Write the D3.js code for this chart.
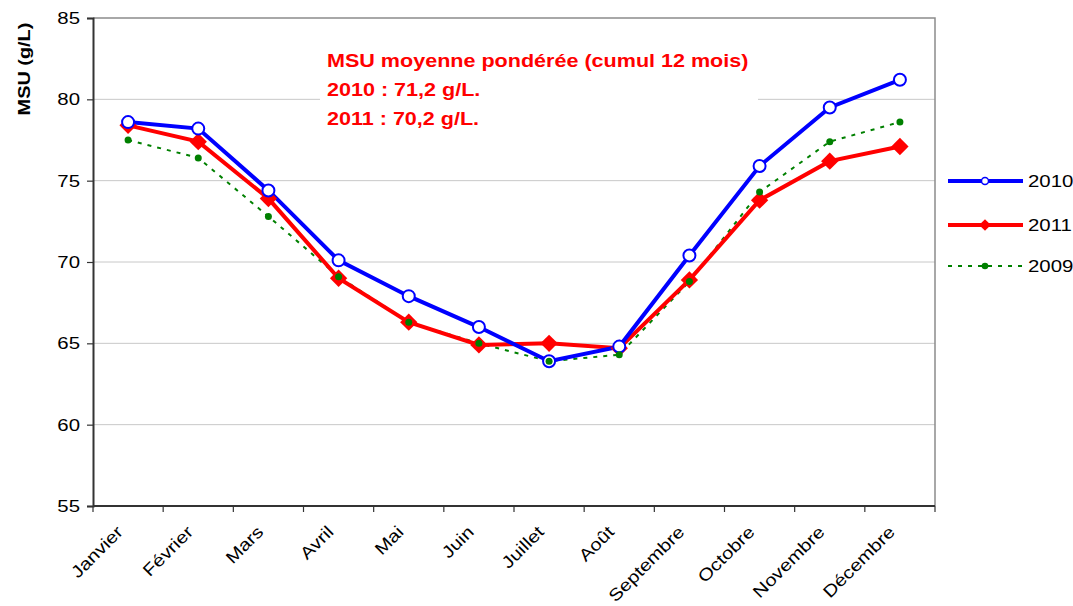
<!DOCTYPE html>
<html>
<head>
<meta charset="utf-8">
<script src="https://cdn.jsdelivr.net/npm/d3@7"></script>
<style>
  html, body { margin: 0; padding: 0; background: #fff; }
  svg { display: block; font-family: "Liberation Sans", Arial, sans-serif; }
</style>
</head>
<body>
<svg id="chart" width="1073" height="606"></svg>
<script>
// Data
const months = ["Janvier", "Février", "Mars", "Avril", "Mai", "Juin", "Juillet", "Août", "Septembre", "Octobre", "Novembre", "Décembre"];
const msu2010 = [78.6, 78.2, 74.4, 70.1, 67.9, 66.0, 63.9, 64.8, 70.4, 75.9, 79.5, 81.2];
const msu2011 = [78.4, 77.4, 73.9, 69.0, 66.3, 64.9, 65.0, 64.7, 68.9, 73.8, 76.2, 77.1];
const msu2009 = [77.5, 76.4, 72.8, 69.1, 66.3, 65.0, 63.9, 64.3, 68.8, 74.3, 77.4, 78.6];
const yTicks = [55, 60, 65, 70, 75, 80, 85];
const noteLines = ["MSU moyenne pondérée (cumul 12 mois)", "2010 : 71,2 g/L.", "2011 : 70,2 g/L."];

const svg = d3.select("#chart");

const plotLeft = 93, plotRight = 935, plotTop = 18, plotBottom = 506;
const stretch = 1.2; // the original text is wider than plain Arial

const x = d3.scaleBand().domain(months).range([plotLeft, plotRight]).padding(0);
const y = d3.scaleLinear().domain([55, 85]).range([plotBottom, plotTop]);

// gridlines
svg.append("g")
    .selectAll("line")
    .data(yTicks.slice(1, -1))
    .join("line")
    .attr("x1", plotLeft).attr("x2", plotRight)
    .attr("y1", d => y(d)).attr("y2", d => y(d))
    .attr("stroke", "#c8c8c8")
    .attr("stroke-width", 1);

// frame: top and right in grey
svg.append("path")
    .attr("d", `M${plotLeft},${plotTop}H${plotRight}V${plotBottom}`)
    .attr("fill", "none")
    .attr("stroke", "#8c8c8c")
    .attr("stroke-width", 1.5);

// white box behind the note (covers gridline at 80)
svg.append("rect")
    .attr("x", 320).attr("y", 42)
    .attr("width", 438).attr("height", 92)
    .attr("fill", "#fff");

// y axis
const yAxis = svg.append("g")
    .attr("transform", `translate(${plotLeft},0)`)
    .call(d3.axisLeft(y).tickValues(yTicks).tickSize(6).tickPadding(7));
yAxis.select(".domain").attr("stroke", "#333").attr("stroke-width", 2);
yAxis.selectAll(".tick line").attr("stroke", "#333").attr("stroke-width", 1.2);
yAxis.selectAll(".tick text")
    .attr("font-size", 17)
    .attr("fill", "#000")
    .attr("font-family", "Liberation Sans, Arial, sans-serif")
    .attr("x", -13 / stretch)
    .attr("transform", `scale(${stretch},1)`);

// x axis: ticks at band boundaries
const xAxis = svg.append("g").attr("transform", `translate(0,${plotBottom})`);
xAxis.append("line")
    .attr("x1", plotLeft).attr("x2", plotRight)
    .attr("stroke", "#333").attr("stroke-width", 2);
const boundaries = months.map(m => x(m)).concat([plotRight]);
xAxis.selectAll(".xt")
    .data(boundaries)
    .join("line")
    .attr("class", "xt")
    .attr("x1", d => d).attr("x2", d => d)
    .attr("y1", 0).attr("y2", 6)
    .attr("stroke", "#333").attr("stroke-width", 1.2);
xAxis.selectAll("text")
    .data(months)
    .join("text")
    .attr("transform", d => `translate(${x(d) + x.bandwidth() / 2 - 4},${27}) rotate(-45) scale(1.19,1)`)
    .attr("text-anchor", "end")
    .attr("font-size", 17)
    .attr("fill", "#000")
    .text(d => d);

// y axis title
svg.append("text")
    .attr("transform", `translate(30,69) rotate(-90) scale(1.17,1)`)
    .attr("text-anchor", "middle")
    .attr("font-size", 17)
    .attr("font-weight", "bold")
    .text("MSU (g/L)");

// note text
svg.append("g")
    .selectAll("text")
    .data(noteLines)
    .join("text")
    .attr("transform", (d, i) => `translate(327,${67 + i * 29}) scale(1.165,1)`)
    .attr("font-size", 18.5)
    .attr("font-weight", "bold")
    .attr("fill", "#ff0000")
    .text(d => d);

const cx = (d, i) => x(months[i]) + x.bandwidth() / 2;
const line = d3.line().x(cx).y(d => y(d));

// 2009 dotted green
svg.append("path")
    .datum(msu2009)
    .attr("d", line)
    .attr("fill", "none")
    .attr("stroke", "#008000")
    .attr("stroke-width", 2)
    .attr("stroke-dasharray", "4,6");

// 2011 red
svg.append("path")
    .datum(msu2011)
    .attr("d", line)
    .attr("fill", "none")
    .attr("stroke", "#ff0000")
    .attr("stroke-width", 4);

// 2010 blue
svg.append("path")
    .datum(msu2010)
    .attr("d", line)
    .attr("fill", "none")
    .attr("stroke", "#0000ff")
    .attr("stroke-width", 4);

// markers 2011: diamonds
svg.append("g")
    .selectAll("path")
    .data(msu2011)
    .join("path")
    .attr("d", d3.symbol().type(d3.symbolSquare).size(150))
    .attr("transform", (d, i) => `translate(${cx(d, i)},${y(d)}) rotate(45)`)
    .attr("fill", "#ff0000");

// markers 2010: open circles
svg.append("g")
    .selectAll("circle")
    .data(msu2010)
    .join("circle")
    .attr("cx", cx)
    .attr("cy", d => y(d))
    .attr("r", 6)
    .attr("fill", "#fff")
    .attr("stroke", "#0000ff")
    .attr("stroke-width", 2);

// markers 2009: green dots
svg.append("g")
    .selectAll("circle")
    .data(msu2009)
    .join("circle")
    .attr("cx", cx)
    .attr("cy", d => y(d))
    .attr("r", 3.5)
    .attr("fill", "#008000");

// legend
const legendItems = [
    { name: "2010", color: "#0000ff", width: 4, dash: null, marker: "circle", yPos: 181 },
    { name: "2011", color: "#ff0000", width: 4, dash: null, marker: "diamond", yPos: 225 },
    { name: "2009", color: "#008000", width: 2, dash: "4,6", marker: "dot", yPos: 266 }
];
const legend = svg.append("g");
legendItems.forEach(it => {
    legend.append("line")
        .attr("x1", 948).attr("x2", 1023)
        .attr("y1", it.yPos).attr("y2", it.yPos)
        .attr("stroke", it.color)
        .attr("stroke-width", it.width)
        .attr("stroke-dasharray", it.dash);
    if (it.marker === "circle") {
        legend.append("circle").attr("cx", 985).attr("cy", it.yPos).attr("r", 3.5)
            .attr("fill", "#fff").attr("stroke", it.color).attr("stroke-width", 1.5);
    } else if (it.marker === "diamond") {
        legend.append("path")
            .attr("d", d3.symbol().type(d3.symbolSquare).size(68))
            .attr("transform", `translate(985,${it.yPos}) rotate(45)`)
            .attr("fill", it.color);
    } else {
        legend.append("circle").attr("cx", 985).attr("cy", it.yPos).attr("r", 3.3)
            .attr("fill", it.color);
    }
    legend.append("text")
        .attr("transform", `translate(1028,${it.yPos + 6}) scale(${stretch},1)`)
        .attr("font-size", 17)
        .text(it.name);
});
</script>
</body>
</html>
